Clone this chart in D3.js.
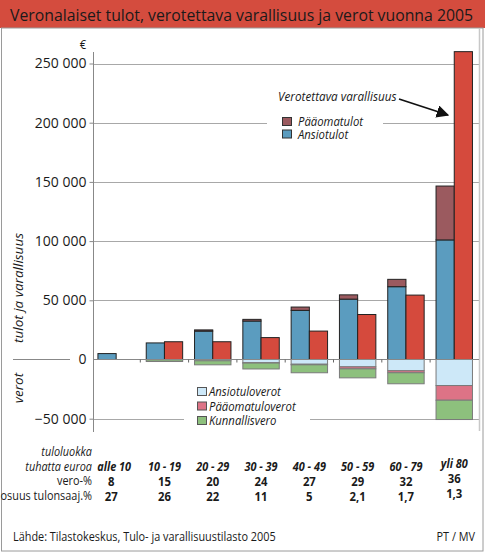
<!DOCTYPE html>
<html>
<head>
<meta charset="utf-8">
<script src="https://cdn.jsdelivr.net/npm/d3@7"></script>
<style>
  body { margin: 0; background: #fff; }
  text { font-family: "Open Sans", "Noto Sans", sans-serif; fill: #1a1a1a; }
</style>
</head>
<body>
<script>
// tuloluokat
const categories = ['alle 10', '10 - 19', '20 - 29', '30 - 39', '40 - 49', '50 - 59', '60 - 79', 'yli 80']
// tulot ja varallisuus (euroa)
const ansiotulot = [5000, 14000, 24000, 32500, 41500, 51000, 61500, 101000]
const paaomatulot = [0, 0, 1000, 1400, 2800, 3600, 6200, 45500]
const varallisuus = [0, 15000, 15000, 18500, 24000, 38000, 54400, 260000]
// verot (euroa, piirretään negatiivisena)
const ansiotuloverot = [0, 300, 1100, 2800, 4000, 6200, 9500, 22000]
const paaomatuloverot = [0, 0, 0, 200, 500, 1700, 1700, 12400]
const kunnallisvero = [0, 1400, 3400, 5000, 6700, 7600, 9300, 16300]
// taulukon rivit
const veroPct = ['8', '15', '20', '24', '27', '29', '32', '36']
const osuusPct = ['27', '26', '22', '11', '5', '2,1', '1,7', '1,3']
const yTicks = [-50000, 0, 50000, 100000, 150000, 200000, 250000]

const col = {
    ansio: '#5b9cbf', paaoma: '#9b5a5f', varall: '#d54a3d',
    ansioVero: '#cde8f8', paaomaVero: '#dd7386', kunnallis: '#8dc07d'
}

const W = 485, H = 553
const svg = d3.select('body').append('svg').attr('width', W).attr('height', H)

// otsikko
svg.append('rect').attr('x', 0).attr('y', 0).attr('width', W).attr('height', 28).attr('fill', '#d44c3e')
svg.append('text').attr('class', 'keep').attr('x', 10).attr('y', 21).attr('font-size', 17)
    .attr('textLength', 463).attr('lengthAdjust', 'spacingAndGlyphs')
    .text('Veronalaiset tulot, verotettava varallisuus ja verot vuonna 2005')
// reunat
svg.append('rect').attr('x', 1.5).attr('y', 28).attr('width', 481.5).attr('height', 523)
    .attr('fill', 'none').attr('stroke', '#9a9a9a')

// skaalat
let y = d3.scaleLinear().domain([-50000, 250000]).range([418.7, 63.5])
let x = d3.scaleBand().domain(categories).range([92, 478.4]).paddingInner(0.246).paddingOuter(0.123)
let x1 = d3.scaleBand().domain(['tulot', 'varall']).range([0, x.bandwidth()])
const y0 = y(0)

// ruudukko
svg.append('g').selectAll('line').data(yTicks.filter(d => d != 0)).join('line')
    .attr('x1', 93).attr('x2', 479.5).attr('y1', d => Math.round(y(d)) + 0.5).attr('y2', d => Math.round(y(d)) + 0.5)
    .attr('stroke', '#a8a8a8')
svg.append('line').attr('x1', 479.5).attr('x2', 479.5).attr('y1', 28).attr('y2', 431).attr('stroke', '#c8c8c8').attr('stroke-width', 1.5)

// y-akseli
let yAxis = svg.append('g').attr('transform', 'translate(93.5,0)')
    .call(d3.axisLeft(y).tickValues(yTicks).tickSize(4).tickPadding(3)
        .tickFormat(d => d3.format(',')(d).replace(/,/g, ' ')))
yAxis.select('.domain').remove()
yAxis.selectAll('line').attr('stroke', '#888')
yAxis.selectAll('text').attr('class', 'keep').attr('font-size', 14)
    .style('font-family', '"Open Sans", sans-serif').attr('fill', '#1a1a1a')
yAxis.selectAll('.tick').filter(d => d == 0).select('line').remove()
svg.append('line').attr('x1', 93.5).attr('x2', 93.5).attr('y1', 52).attr('y2', 432).attr('stroke', '#888')
svg.append('text').attr('x', 83).attr('y', 49).attr('font-size', 13).attr('text-anchor', 'middle').text('€')

// legendojen taustat (katkaisevat ruudukon)
svg.append('rect').attr('x', 267).attr('y', 112).attr('width', 116).attr('height', 30).attr('fill', '#fff')
svg.append('rect').attr('x', 184).attr('y', 383).attr('width', 126).attr('height', 44).attr('fill', '#fff')

// palkit
let g = svg.append('g')
categories.forEach((c, i) => {
    let bx = x(c) + x1('tulot')
    g.append('rect').attr('x', bx).attr('y', y(ansiotulot[i])).attr('width', x1.bandwidth())
        .attr('height', y0 - y(ansiotulot[i])).attr('fill', col.ansio).attr('stroke', '#222')
    if (paaomatulot[i] > 0) {
        g.append('rect').attr('x', bx).attr('y', y(ansiotulot[i] + paaomatulot[i])).attr('width', x1.bandwidth())
            .attr('height', y(ansiotulot[i]) - y(ansiotulot[i] + paaomatulot[i])).attr('fill', col.paaoma).attr('stroke', '#222')
    }
    if (varallisuus[i] > 0) {
        g.append('rect').attr('x', x(c) + x1('varall')).attr('y', y(varallisuus[i])).attr('width', x1.bandwidth())
            .attr('height', y0 - y(varallisuus[i])).attr('fill', col.varall).attr('stroke', '#222')
    }
    // verot
    let parts = [[ansiotuloverot[i], col.ansioVero], [paaomatuloverot[i], col.paaomaVero], [kunnallisvero[i], col.kunnallis]]
    let acc = 0
    parts.forEach(([v, fill]) => {
        if (v <= 0) return
        g.append('rect').attr('x', x(c)).attr('y', y(-acc)).attr('width', x.bandwidth())
            .attr('height', y(-acc - v) - y(-acc)).attr('fill', fill).attr('stroke', '#7a7a7a')
        acc += v
    })
})

// nollaviiva ja ryhmien väliviivat
svg.append('line').attr('x1', 13).attr('x2', 70).attr('y1', y0).attr('y2', y0).attr('stroke', '#888')
svg.append('line').attr('x1', 93).attr('x2', 479).attr('y1', y0).attr('y2', y0).attr('stroke', '#888')
svg.append('g').selectAll('line').data(categories.slice(1)).join('line')
    .attr('x1', d => x(d) - x.step() * x.paddingInner() / 2).attr('x2', d => x(d) - x.step() * x.paddingInner() / 2)
    .attr('y1', y0).attr('y2', y0 + 3).attr('stroke', '#666')

// akselien otsikot
svg.append('text').attr('class', 'keep').attr('transform', `translate(23,288) rotate(-90)`).attr('text-anchor', 'middle')
    .attr('font-size', 13.5).attr('font-style', 'italic').text('tulot ja varallisuus')
svg.append('text').attr('class', 'keep').attr('transform', `translate(23,388) rotate(-90)`).attr('text-anchor', 'middle')
    .attr('font-size', 13.5).attr('font-style', 'italic').text('verot')

// legenda ylhäällä
svg.append('text').attr('x', 278).attr('y', 101).attr('font-size', 13.5).attr('font-style', 'italic').text('Verotettava varallisuus')
svg.append('defs').append('marker').attr('id', 'arrow').attr('viewBox', '0 0 10 10').attr('refX', 9).attr('refY', 5)
    .attr('markerWidth', 7).attr('markerHeight', 7).attr('orient', 'auto')
    .append('path').attr('d', 'M0,0L10,5L0,10z').attr('fill', '#111')
svg.append('line').attr('x1', 399).attr('y1', 99).attr('x2', 448).attr('y2', 115)
    .attr('stroke', '#111').attr('stroke-width', 1.8).attr('marker-end', 'url(#arrow)')

const legendTop = [['Pääomatulot', col.paaoma], ['Ansiotulot', col.ansio]]
legendTop.forEach(([name, fill], i) => {
    svg.append('rect').attr('x', 282.5).attr('y', 117.5 + i * 12.5).attr('width', 9).attr('height', 8)
        .attr('fill', fill).attr('stroke', '#333')
    svg.append('text').attr('x', 298).attr('y', 126 + i * 12.5).attr('font-size', 13).attr('font-style', 'italic').text(name)
})

// legenda alhaalla
const legendBottom = [['Ansiotuloverot', col.ansioVero], ['Pääomatuloverot', col.paaomaVero], ['Kunnallisvero', col.kunnallis]]
legendBottom.forEach(([name, fill], i) => {
    svg.append('rect').attr('x', 197.5).attr('y', 387.5 + i * 14.5).attr('width', 9).attr('height', 8)
        .attr('fill', fill).attr('stroke', '#555')
    svg.append('text').attr('x', 209).attr('y', 396 + i * 14.5).attr('font-size', 13).attr('font-style', 'italic').text(name)
})

// taulukko
const rowLabels = [['tuloluokka', 456, true], ['tuhatta euroa', 471, true], ['vero-%', 485, false], ['osuus tulonsaaj.%', 500, false]]
rowLabels.forEach(([t, ty, it]) => {
    svg.append('text').attr('x', 92).attr('y', ty).attr('text-anchor', 'end').attr('font-size', 12.5)
        .attr('font-style', it ? 'italic' : 'normal').text(t)
})
let cx = d => x(d) + x.bandwidth() / 2
svg.append('g').selectAll('text').data(categories).join('text')
    .attr('x', (d, i) => i == 0 ? cx(d) - 2 : cx(d)).attr('y', (d, i) => i == 7 ? 468 : 471)
    .attr('text-anchor', 'middle').attr('font-size', 12.5).attr('font-weight', 'bold').attr('font-style', 'italic')
    .text(d => d)
svg.append('g').selectAll('text').data(veroPct).join('text')
    .attr('x', (d, i) => i == 0 ? cx(categories[i]) - 5 : cx(categories[i])).attr('y', (d, i) => i == 7 ? 483 : 486)
    .attr('text-anchor', 'middle').attr('font-size', 13).attr('font-weight', 'bold').text(d => d)
svg.append('g').selectAll('text').data(osuusPct).join('text')
    .attr('x', (d, i) => i == 0 ? cx(categories[i]) - 5 : cx(categories[i])).attr('y', (d, i) => i == 7 ? 498 : 501)
    .attr('text-anchor', 'middle').attr('font-size', 13).attr('font-weight', 'bold').text(d => d)

// lähde
svg.append('text').attr('x', 13).attr('y', 541).attr('font-size', 12.5).text('Lähde: Tilastokeskus, Tulo- ja varallisuustilasto 2005')
svg.append('text').attr('x', 475).attr('y', 541).attr('text-anchor', 'end').attr('font-size', 12.5).text('PT / MV')

// kapeampi kirjasin kuten alkuperäisessä
svg.selectAll('text').filter(function () { return !this.classList.contains('keep') }).each(function () {
    let w = this.getComputedTextLength()
    d3.select(this).attr('textLength', w * 0.87).attr('lengthAdjust', 'spacingAndGlyphs')
})
</script>
</body>
</html>
